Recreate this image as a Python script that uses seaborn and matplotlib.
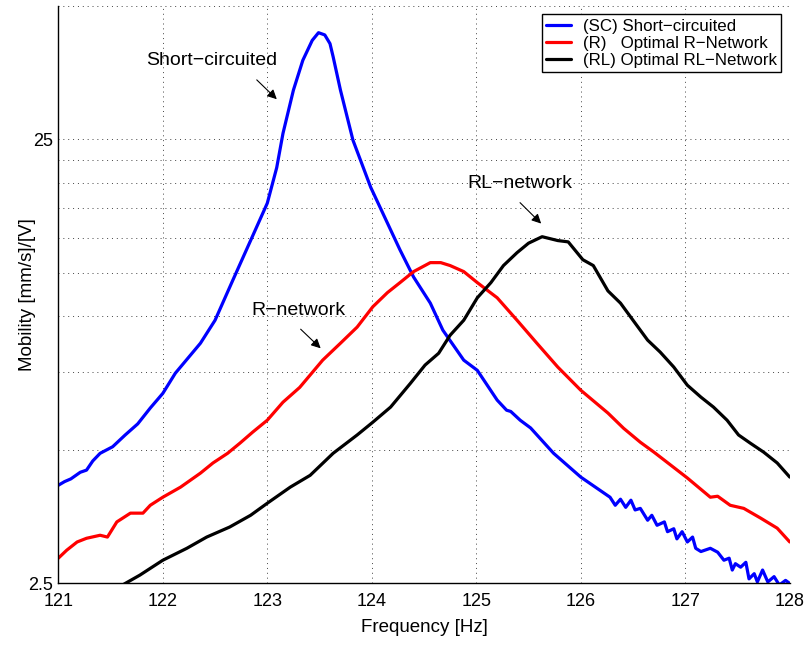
import numpy as np
import pandas as pd
import seaborn as sns
import matplotlib.pyplot as plt
from matplotlib.ticker import FixedLocator, NullFormatter

# values (frequency in Hz, mobility in [mm/s]/[V])
sc_freq = [121.00, 121.06, 121.12, 121.21, 121.27, 121.33, 121.40, 121.52, 121.64, 121.76,
           121.88, 122.00, 122.12, 122.36, 122.50, 122.67, 122.84,
           123.00, 123.09, 123.15, 123.25, 123.34, 123.43, 123.49, 123.55, 123.60, 123.63,
           123.70, 123.82, 123.99, 124.15, 124.27, 124.40, 124.56, 124.68, 124.88, 125.01,
           125.20, 125.29, 125.33, 125.42, 125.52, 125.74, 126.00, 126.28, 126.33, 126.38,
           126.43, 126.48, 126.52, 126.57, 126.64, 126.68, 126.73, 126.80, 126.83, 126.89,
           126.92, 126.97, 127.02, 127.07, 127.10, 127.15, 127.24, 127.31, 127.37, 127.42,
           127.45, 127.48, 127.53, 127.58, 127.61, 127.66, 127.69, 127.74, 127.79, 127.85,
           127.90, 127.96, 128.00]
sc_mob = [4.16, 4.24, 4.30, 4.45, 4.50, 4.72, 4.91, 5.08, 5.40, 5.72,
          6.21, 6.70, 7.44, 8.69, 9.79, 12.05, 14.8,
          17.97, 21.6, 25.8, 32.3, 37.7, 41.8, 43.5, 43.0, 41.1, 38.4,
          32.3, 24.9, 19.5, 16.2, 14.1, 12.25, 10.7, 9.30, 7.96, 7.55,
          6.47, 6.14, 6.10, 5.83, 5.60, 4.91, 4.34, 3.91, 3.75, 3.87,
          3.71, 3.85, 3.66, 3.69, 3.47, 3.56, 3.38, 3.44, 3.27, 3.32,
          3.15, 3.27, 3.10, 3.18, 3.00, 2.95, 3.00, 2.94, 2.82, 2.85,
          2.68, 2.77, 2.72, 2.79, 2.56, 2.63, 2.52, 2.68, 2.52, 2.59,
          2.48, 2.54, 2.50]

r_freq = [121.00, 121.08, 121.18, 121.27, 121.40, 121.47, 121.56, 121.69, 121.81, 121.88,
          122.00, 122.17, 122.36, 122.48, 122.62, 122.74, 122.86, 123.00, 123.15, 123.31,
          123.53, 123.70, 123.86, 124.01, 124.15, 124.27, 124.40, 124.56, 124.66, 124.75,
          124.88, 125.01, 125.20, 125.39, 125.58, 125.78, 126.00, 126.26, 126.41, 126.57,
          126.70, 126.86, 127.02, 127.24, 127.31, 127.43, 127.56, 127.72, 127.88, 128.00]
r_mob = [2.85, 2.97, 3.10, 3.16, 3.21, 3.18, 3.44, 3.60, 3.60, 3.75,
         3.91, 4.12, 4.43, 4.67, 4.91, 5.18, 5.48, 5.83, 6.40, 6.91,
         7.96, 8.69, 9.45, 10.5, 11.3, 11.9, 12.6, 13.2, 13.2, 13.0,
         12.6, 11.9, 11.0, 9.79, 8.69, 7.68, 6.81, 6.05, 5.59, 5.20,
         4.94, 4.62, 4.32, 3.91, 3.93, 3.75, 3.69, 3.51, 3.33, 3.10]

rl_freq = [121.50, 121.64, 121.78, 122.00, 122.23, 122.42, 122.64, 122.84, 123.00, 123.22,
           123.41, 123.63, 123.86, 124.01, 124.18, 124.37, 124.51, 124.64, 124.75, 124.88,
           125.01, 125.14, 125.26, 125.39, 125.50, 125.63, 125.78, 125.88, 126.02, 126.12,
           126.26, 126.38, 126.50, 126.64, 126.76, 126.89, 127.02, 127.15, 127.27, 127.40,
           127.51, 127.62, 127.75, 127.88, 128.00]
rl_mob = [2.39, 2.50, 2.61, 2.82, 3.00, 3.18, 3.35, 3.56, 3.79, 4.12,
          4.38, 4.91, 5.40, 5.77, 6.24, 7.06, 7.76, 8.25, 9.06, 9.79,
          11.0, 11.9, 13.0, 13.9, 14.6, 15.1, 14.8, 14.7, 13.4, 13.0,
          11.4, 10.7, 9.79, 8.83, 8.30, 7.68, 6.99, 6.57, 6.24, 5.83,
          5.40, 5.18, 4.94, 4.67, 4.34]

series_names = ["(SC) Short\u2212circuited", "(R)   Optimal R\u2212Network", "(RL) Optimal RL\u2212Network"]
series_colors = ["#0000ff", "#ff0000", "#000000"]

x_ticks = [121, 122, 123, 124, 125, 126, 127, 128]
y_major = [2.5, 25]
y_minor = [5, 7.5, 10, 12.5, 15, 17.5, 20, 22.5, 50]

df = pd.concat([
    pd.DataFrame({"freq": sc_freq, "mob": sc_mob, "series": series_names[0]}),
    pd.DataFrame({"freq": r_freq, "mob": r_mob, "series": series_names[1]}),
    pd.DataFrame({"freq": rl_freq, "mob": rl_mob, "series": series_names[2]}),
], ignore_index=True)

sns.set_theme(style="white")
plt.rcParams['font.family'] = ['Liberation Sans', 'DejaVu Sans']
plt.rcParams['text.color'] = 'black'
plt.rcParams['axes.labelcolor'] = 'black'

fig, ax = plt.subplots(figsize=(8.1, 6.49), dpi=100)
fig.subplots_adjust(left=0.072, right=0.975, bottom=0.101, top=0.991)

sns.lineplot(data=df, x="freq", y="mob", hue="series", hue_order=series_names,
             palette=dict(zip(series_names, series_colors)), linewidth=2.3,
             sort=False, estimator=None, ax=ax)

ax.set_yscale("log")
ax.set_xlim(121, 128)
ax.set_ylim(2.5, 50)
ax.set_xticks(x_ticks)
ax.set_xticklabels([str(t) for t in x_ticks])
ax.yaxis.set_major_locator(FixedLocator(y_major))
ax.yaxis.set_minor_locator(FixedLocator(y_minor))
ax.set_yticklabels(["2.5", "25"])
ax.yaxis.set_minor_formatter(NullFormatter())

grid_kw = dict(color="#444444", linestyle=(0, (1, 4)), linewidth=0.7)
ax.grid(True, which="major", axis="both", **grid_kw)
ax.grid(True, which="minor", axis="y", **grid_kw)

for side in ["top", "right"]:
    ax.spines[side].set_visible(False)
for side in ["left", "bottom"]:
    ax.spines[side].set_color("black")
    ax.spines[side].set_linewidth(1.0)

ax.tick_params(axis="both", which="major", direction="in", length=5, width=0.8,
               labelsize=13, colors="black", labelcolor="black", pad=4)
ax.tick_params(axis="y", which="minor", direction="in", length=3, width=0.8)
ax.tick_params(axis="x", which="major", pad=7)

ax.set_xlabel("Frequency [Hz]", fontsize=13.5, labelpad=6, color="black")
ax.set_ylabel("Mobility [mm/s]/[V]", fontsize=13.5, color="black")
ax.yaxis.set_label_coords(-0.031, 0.5)

# annotations
arrow_kw = dict(arrowstyle="-|>", color="black", lw=0.8, mutation_scale=14)
ax.text(122.47, 37.7, "Short\u2212circuited", fontsize=14, ha="center", va="center", color="black")
ax.annotate("", xy=(123.11, 30.5), xytext=(122.88, 34.4), arrowprops=arrow_kw)
ax.text(123.30, 10.3, "R\u2212network", fontsize=14, ha="center", va="center", color="black")
ax.annotate("", xy=(123.53, 8.38), xytext=(123.30, 9.44), arrowprops=arrow_kw)
ax.text(125.42, 19.9, "RL\u2212network", fontsize=14, ha="center", va="center", color="black")
ax.annotate("", xy=(125.64, 16.0), xytext=(125.40, 18.2), arrowprops=arrow_kw)

leg = ax.legend(loc="upper right", fontsize=12.2, frameon=True, fancybox=False,
                edgecolor="black", framealpha=1, handlelength=1.5, handletextpad=0.7,
                borderaxespad=0.5, borderpad=0.25, labelspacing=0.12)
leg.get_frame().set_linewidth(1.0)
for line in leg.get_lines():
    line.set_linewidth(2.3)
for t in leg.get_texts():
    t.set_color("black")

plt.savefig("out.png", dpi=100)
